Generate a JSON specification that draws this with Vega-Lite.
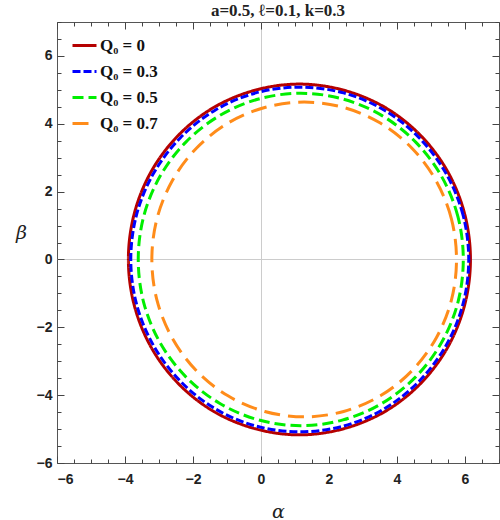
{
  "$schema": "https://vega.github.io/schema/vega-lite/v6.json",
  "width": 442,
  "height": 441,
  "autosize": {"type": "none"},
  "padding": {"left": 57, "top": 22, "right": 1, "bottom": 57},
  "background": "white",
  "title": {
    "text": "a=0.5, ℓ=0.1, k=0.3",
    "font": "Liberation Serif",
    "fontSize": 17,
    "fontWeight": "bold",
    "color": "#222222",
    "offset": 2
  },
  "config": {
    "view": {"stroke": "#555555", "strokeWidth": 1},
    "axis": {
      "domain": false,
      "ticks": true,
      "zindex": 1,
      "labelFont": "Liberation Sans",
      "labelFontSize": 14,
      "labelFontWeight": "bold",
      "labelColor": "#222222",
      "tickColor": "#444444",
      "tickWidth": 1,
      "tickOpacity": 1,
      "gridColor": "#cccccc",
      "titleFont": "DejaVu Serif",
      "titleFontStyle": "italic",
      "titleFontWeight": "normal",
      "titleFontSize": 19,
      "titleColor": "#222222"
    }
  },
  "data": {
    "values": [
      {"s": "Q₀ = 0", "i": 0, "x": 6.16, "y": 0},
      {"s": "Q₀ = 0", "i": 1, "x": 5.99, "y": 1.34},
      {"s": "Q₀ = 0", "i": 2, "x": 5.49, "y": 2.59},
      {"s": "Q₀ = 0", "i": 3, "x": 4.69, "y": 3.66},
      {"s": "Q₀ = 0", "i": 4, "x": 3.65, "y": 4.48},
      {"s": "Q₀ = 0", "i": 5, "x": 2.43, "y": 4.99},
      {"s": "Q₀ = 0", "i": 6, "x": 1.13, "y": 5.17},
      {"s": "Q₀ = 0", "i": 7, "x": -0.17, "y": 4.99},
      {"s": "Q₀ = 0", "i": 8, "x": -1.39, "y": 4.48},
      {"s": "Q₀ = 0", "i": 9, "x": -2.43, "y": 3.66},
      {"s": "Q₀ = 0", "i": 10, "x": -3.23, "y": 2.59},
      {"s": "Q₀ = 0", "i": 11, "x": -3.73, "y": 1.34},
      {"s": "Q₀ = 0", "i": 12, "x": -3.9, "y": 0},
      {"s": "Q₀ = 0", "i": 13, "x": -3.73, "y": -1.34},
      {"s": "Q₀ = 0", "i": 14, "x": -3.23, "y": -2.59},
      {"s": "Q₀ = 0", "i": 15, "x": -2.43, "y": -3.66},
      {"s": "Q₀ = 0", "i": 16, "x": -1.39, "y": -4.48},
      {"s": "Q₀ = 0", "i": 17, "x": -0.17, "y": -4.99},
      {"s": "Q₀ = 0", "i": 18, "x": 1.13, "y": -5.17},
      {"s": "Q₀ = 0", "i": 19, "x": 2.43, "y": -4.99},
      {"s": "Q₀ = 0", "i": 20, "x": 3.65, "y": -4.48},
      {"s": "Q₀ = 0", "i": 21, "x": 4.69, "y": -3.66},
      {"s": "Q₀ = 0", "i": 22, "x": 5.49, "y": -2.59},
      {"s": "Q₀ = 0", "i": 23, "x": 5.99, "y": -1.34},

      {"s": "Q₀ = 0.3", "i": 0, "x": 6.11, "y": 0},
      {"s": "Q₀ = 0.3", "i": 1, "x": 5.94, "y": 1.32},
      {"s": "Q₀ = 0.3", "i": 2, "x": 5.44, "y": 2.54},
      {"s": "Q₀ = 0.3", "i": 3, "x": 4.65, "y": 3.59},
      {"s": "Q₀ = 0.3", "i": 4, "x": 3.63, "y": 4.4},
      {"s": "Q₀ = 0.3", "i": 5, "x": 2.43, "y": 4.91},
      {"s": "Q₀ = 0.3", "i": 6, "x": 1.14, "y": 5.08},
      {"s": "Q₀ = 0.3", "i": 7, "x": -0.15, "y": 4.91},
      {"s": "Q₀ = 0.3", "i": 8, "x": -1.35, "y": 4.4},
      {"s": "Q₀ = 0.3", "i": 9, "x": -2.37, "y": 3.59},
      {"s": "Q₀ = 0.3", "i": 10, "x": -3.16, "y": 2.54},
      {"s": "Q₀ = 0.3", "i": 11, "x": -3.66, "y": 1.32},
      {"s": "Q₀ = 0.3", "i": 12, "x": -3.83, "y": 0},
      {"s": "Q₀ = 0.3", "i": 13, "x": -3.66, "y": -1.32},
      {"s": "Q₀ = 0.3", "i": 14, "x": -3.16, "y": -2.54},
      {"s": "Q₀ = 0.3", "i": 15, "x": -2.37, "y": -3.59},
      {"s": "Q₀ = 0.3", "i": 16, "x": -1.35, "y": -4.4},
      {"s": "Q₀ = 0.3", "i": 17, "x": -0.15, "y": -4.91},
      {"s": "Q₀ = 0.3", "i": 18, "x": 1.14, "y": -5.08},
      {"s": "Q₀ = 0.3", "i": 19, "x": 2.43, "y": -4.91},
      {"s": "Q₀ = 0.3", "i": 20, "x": 3.63, "y": -4.4},
      {"s": "Q₀ = 0.3", "i": 21, "x": 4.65, "y": -3.59},
      {"s": "Q₀ = 0.3", "i": 22, "x": 5.44, "y": -2.54},
      {"s": "Q₀ = 0.3", "i": 23, "x": 5.94, "y": -1.32},

      {"s": "Q₀ = 0.5", "i": 0, "x": 5.95, "y": 0},
      {"s": "Q₀ = 0.5", "i": 1, "x": 5.79, "y": 1.27},
      {"s": "Q₀ = 0.5", "i": 2, "x": 5.31, "y": 2.45},
      {"s": "Q₀ = 0.5", "i": 3, "x": 4.55, "y": 3.46},
      {"s": "Q₀ = 0.5", "i": 4, "x": 3.56, "y": 4.24},
      {"s": "Q₀ = 0.5", "i": 5, "x": 2.41, "y": 4.73},
      {"s": "Q₀ = 0.5", "i": 6, "x": 1.17, "y": 4.9},
      {"s": "Q₀ = 0.5", "i": 7, "x": -0.07, "y": 4.73},
      {"s": "Q₀ = 0.5", "i": 8, "x": -1.22, "y": 4.24},
      {"s": "Q₀ = 0.5", "i": 9, "x": -2.21, "y": 3.46},
      {"s": "Q₀ = 0.5", "i": 10, "x": -2.97, "y": 2.45},
      {"s": "Q₀ = 0.5", "i": 11, "x": -3.45, "y": 1.27},
      {"s": "Q₀ = 0.5", "i": 12, "x": -3.61, "y": 0},
      {"s": "Q₀ = 0.5", "i": 13, "x": -3.45, "y": -1.27},
      {"s": "Q₀ = 0.5", "i": 14, "x": -2.97, "y": -2.45},
      {"s": "Q₀ = 0.5", "i": 15, "x": -2.21, "y": -3.46},
      {"s": "Q₀ = 0.5", "i": 16, "x": -1.22, "y": -4.24},
      {"s": "Q₀ = 0.5", "i": 17, "x": -0.07, "y": -4.73},
      {"s": "Q₀ = 0.5", "i": 18, "x": 1.17, "y": -4.9},
      {"s": "Q₀ = 0.5", "i": 19, "x": 2.41, "y": -4.73},
      {"s": "Q₀ = 0.5", "i": 20, "x": 3.56, "y": -4.24},
      {"s": "Q₀ = 0.5", "i": 21, "x": 4.55, "y": -3.46},
      {"s": "Q₀ = 0.5", "i": 22, "x": 5.31, "y": -2.45},
      {"s": "Q₀ = 0.5", "i": 23, "x": 5.79, "y": -1.27},

      {"s": "Q₀ = 0.7", "i": 0, "x": 5.75, "y": 0},
      {"s": "Q₀ = 0.7", "i": 1, "x": 5.6, "y": 1.2},
      {"s": "Q₀ = 0.7", "i": 2, "x": 5.15, "y": 2.32},
      {"s": "Q₀ = 0.7", "i": 3, "x": 4.44, "y": 3.28},
      {"s": "Q₀ = 0.7", "i": 4, "x": 3.51, "y": 4.02},
      {"s": "Q₀ = 0.7", "i": 5, "x": 2.43, "y": 4.48},
      {"s": "Q₀ = 0.7", "i": 6, "x": 1.27, "y": 4.64},
      {"s": "Q₀ = 0.7", "i": 7, "x": 0.11, "y": 4.48},
      {"s": "Q₀ = 0.7", "i": 8, "x": -0.97, "y": 4.02},
      {"s": "Q₀ = 0.7", "i": 9, "x": -1.9, "y": 3.28},
      {"s": "Q₀ = 0.7", "i": 10, "x": -2.61, "y": 2.32},
      {"s": "Q₀ = 0.7", "i": 11, "x": -3.06, "y": 1.2},
      {"s": "Q₀ = 0.7", "i": 12, "x": -3.21, "y": 0},
      {"s": "Q₀ = 0.7", "i": 13, "x": -3.06, "y": -1.2},
      {"s": "Q₀ = 0.7", "i": 14, "x": -2.61, "y": -2.32},
      {"s": "Q₀ = 0.7", "i": 15, "x": -1.9, "y": -3.28},
      {"s": "Q₀ = 0.7", "i": 16, "x": -0.97, "y": -4.02},
      {"s": "Q₀ = 0.7", "i": 17, "x": 0.11, "y": -4.48},
      {"s": "Q₀ = 0.7", "i": 18, "x": 1.27, "y": -4.64},
      {"s": "Q₀ = 0.7", "i": 19, "x": 2.43, "y": -4.48},
      {"s": "Q₀ = 0.7", "i": 20, "x": 3.51, "y": -4.02},
      {"s": "Q₀ = 0.7", "i": 21, "x": 4.44, "y": -3.28},
      {"s": "Q₀ = 0.7", "i": 22, "x": 5.15, "y": -2.32},
      {"s": "Q₀ = 0.7", "i": 23, "x": 5.6, "y": -1.2}
    ]
  },
  "layer": [
    {
      "mark": {"type": "line", "interpolate": "cardinal-closed", "strokeWidth": 3},
      "encoding": {
        "x": {
          "field": "x", "type": "quantitative",
          "scale": {"domain": [-6, 7], "nice": false, "zero": false},
          "axis": {
            "title": "α",
            "titlePadding": 16,
            "values": [-6, -5.5, -5, -4.5, -4, -3.5, -3, -2.5, -2, -1.5, -1, -0.5, 0, 0.5, 1, 1.5, 2, 2.5, 3, 3.5, 4, 4.5, 5, 5.5, 6, 6.5, 7],
            "labelExpr": "datum.value % 2 === 0 ? format(datum.value, 'd') : ''",
            "tickSize": {"condition": {"test": "datum.value % 2 === 0", "value": -7}, "value": -4},
            "labelPadding": 16,
            "grid": true,
            "gridOpacity": {"condition": {"test": "datum.value === 0", "value": 1}, "value": 0}
          }
        },
        "y": {
          "field": "y", "type": "quantitative",
          "scale": {"domain": [-6, 7], "nice": false, "zero": false},
          "axis": {
            "title": "β",
            "titleAngle": 0,
            "titlePadding": 15,
            "values": [-6, -5.5, -5, -4.5, -4, -3.5, -3, -2.5, -2, -1.5, -1, -0.5, 0, 0.5, 1, 1.5, 2, 2.5, 3, 3.5, 4, 4.5, 5, 5.5, 6, 6.5, 7],
            "labelExpr": "datum.value % 2 === 0 ? format(datum.value, 'd') : ''",
            "tickSize": {"condition": {"test": "datum.value % 2 === 0", "value": -7}, "value": -4},
            "labelPadding": 12,
            "grid": true,
            "gridOpacity": {"condition": {"test": "datum.value === 0", "value": 1}, "value": 0}
          }
        },
        "order": {"field": "i", "type": "quantitative"},
        "color": {
          "field": "s", "type": "nominal",
          "scale": {
            "domain": ["Q₀ = 0", "Q₀ = 0.3", "Q₀ = 0.5", "Q₀ = 0.7"],
            "range": ["#B50000", "#0000FF", "#00EE00", "#FF8C1A"]
          },
          "legend": {
            "title": null,
            "orient": "none",
            "legendX": 14,
            "legendY": 10,
            "symbolType": "stroke",
            "symbolSize": 576,
            "symbolStrokeWidth": 3,
            "labelFont": "Liberation Serif",
            "labelFontSize": 17,
            "labelFontWeight": "bold",
            "labelColor": "#111111",
            "rowPadding": 4,
            "labelOffset": 2
          }
        },
        "strokeDash": {
          "field": "s", "type": "nominal",
          "scale": {
            "domain": ["Q₀ = 0", "Q₀ = 0.3", "Q₀ = 0.5", "Q₀ = 0.7"],
            "range": [[1, 0], [8, 3], [11, 5], [16, 8]]
          },
          "legend": null
        }
      }
    },
    {
      "mark": {"type": "point", "opacity": 0},
      "encoding": {
        "x": {
          "field": "x", "type": "quantitative",
          "axis": {
            "orient": "top", "title": null, "labels": false, "grid": false,
            "values": [-6, -5.5, -5, -4.5, -4, -3.5, -3, -2.5, -2, -1.5, -1, -0.5, 0, 0.5, 1, 1.5, 2, 2.5, 3, 3.5, 4, 4.5, 5, 5.5, 6, 6.5, 7],
            "tickSize": {"condition": {"test": "datum.value % 2 === 0", "value": -7}, "value": -4}
          }
        },
        "y": {
          "field": "y", "type": "quantitative",
          "axis": {
            "orient": "right", "title": null, "labels": false, "grid": false,
            "values": [-6, -5.5, -5, -4.5, -4, -3.5, -3, -2.5, -2, -1.5, -1, -0.5, 0, 0.5, 1, 1.5, 2, 2.5, 3, 3.5, 4, 4.5, 5, 5.5, 6, 6.5, 7],
            "tickSize": {"condition": {"test": "datum.value % 2 === 0", "value": -7}, "value": -4}
          }
        }
      }
    }
  ],
  "resolve": {"axis": {"x": "independent", "y": "independent"}}
}
